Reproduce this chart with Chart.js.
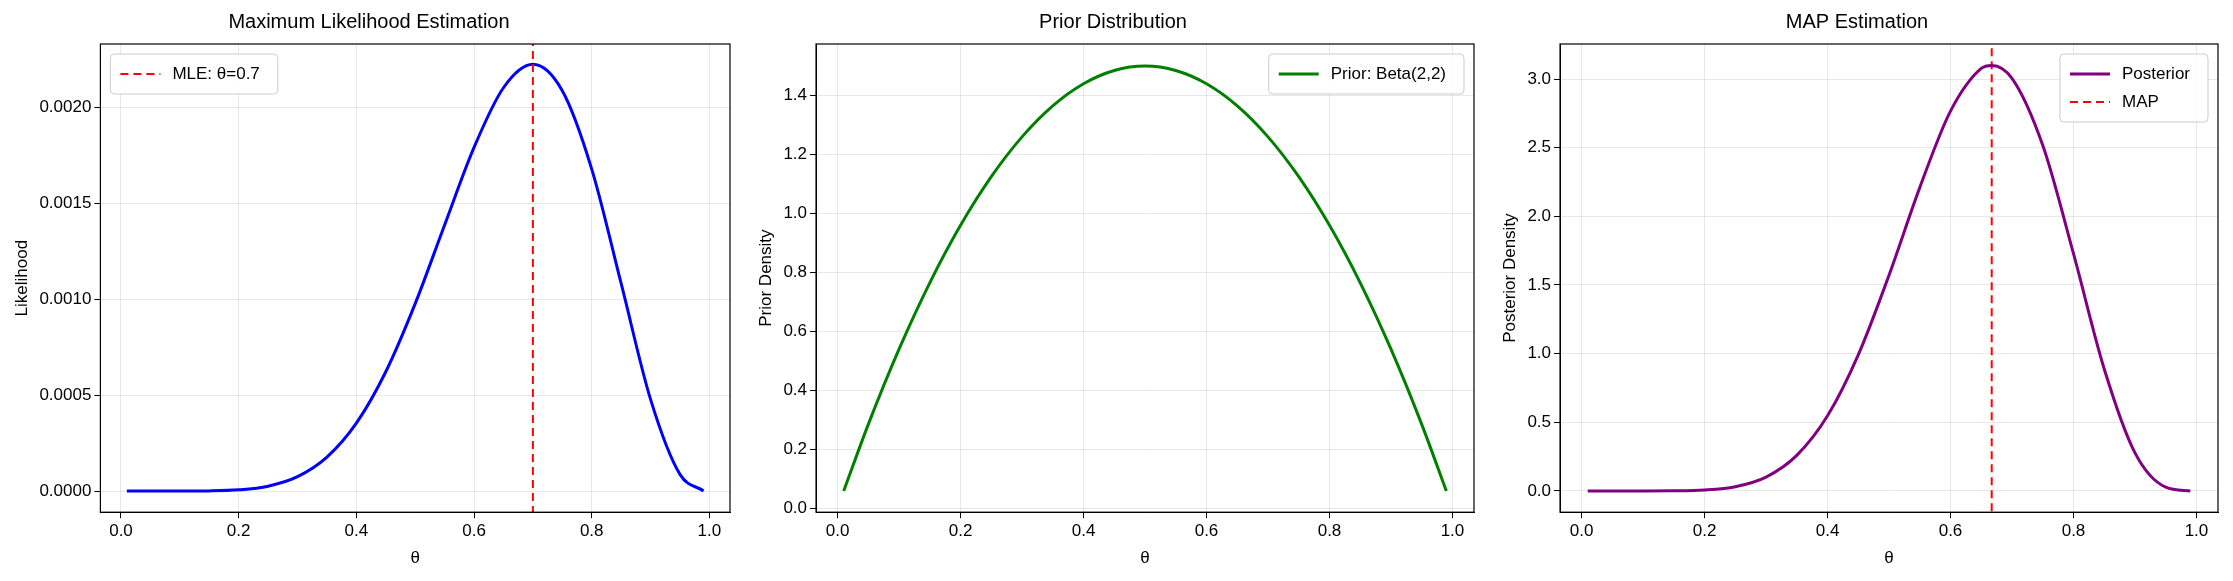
<!DOCTYPE html>
<html>
<head>
<meta charset="utf-8">
<script src="https://cdn.jsdelivr.net/npm/chart.js@4.4.0/dist/chart.umd.min.js"></script>
<style>
  body { margin: 0; background: #fff; }
  .row { display: flex; width: 2233px; height: 581px; }
  .cell { position: relative; width: 744px; height: 581px; }
</style>
</head>
<body>
<div class="row">
  <div class="cell"><canvas id="c1"></canvas></div>
  <div class="cell"><canvas id="c2"></canvas></div>
  <div class="cell"><canvas id="c3"></canvas></div>
</div>
<script>
// values
const theta = [0.01, 0.05, 0.1, 0.15, 0.2, 0.25, 0.3, 0.35, 0.4, 0.45, 0.5, 0.55, 0.6, 0.65, 0.7, 0.75, 0.8, 0.85, 0.9, 0.95, 0.99];
const likelihood = [0, 0, 0.0000001, 0.000001, 0.0000066, 0.0000257, 0.000075, 0.000177, 0.000354, 0.000622, 0.000977, 0.001387, 0.001791, 0.002102, 0.002224, 0.002086, 0.001678, 0.001082, 0.000478, 0.000087, 0.000001];
const prior = [0.059, 0.285, 0.54, 0.765, 0.96, 1.125, 1.26, 1.365, 1.44, 1.485, 1.5, 1.485, 1.44, 1.365, 1.26, 1.125, 0.96, 0.765, 0.54, 0.285, 0.059];
const postTheta = [0.01, 0.05, 0.1, 0.15, 0.2, 0.25, 0.3, 0.35, 0.4, 0.45, 0.5, 0.55, 0.6, 0.65, 0.667, 0.7, 0.75, 0.8, 0.85, 0.9, 0.95, 0.99];
const posterior = [0, 0, 0.00004, 0.0009, 0.0067, 0.031, 0.101, 0.259, 0.547, 0.991, 1.571, 2.209, 2.766, 3.077, 3.099, 3.005, 2.517, 1.728, 0.888, 0.277, 0.027, 0];
const mle = 0.7;
const mapEst = 0.667;

const FONT = "'Liberation Sans', Arial, sans-serif";
Chart.defaults.font.family = FONT;
Chart.defaults.color = "#000";
Chart.defaults.animation = false;

function pts(xs, ys) { return xs.map((x, i) => ({ x: x, y: ys[i] })); }

// matplotlib-like frame + legend drawn inside the plot area
const innerLegend = {
  id: "innerLegend",
  afterDraw(chart, args, opts) {
    const ctx = chart.ctx, a = chart.chartArea;
    const items = chart.data.datasets.filter(d => d.label);
    ctx.save();
    ctx.strokeStyle = "#000";
    ctx.lineWidth = 1.2;
    ctx.strokeRect(a.left, a.top, a.right - a.left, a.bottom - a.top);
    ctx.font = "17px " + FONT;
    let w = 0;
    items.forEach(d => { w = Math.max(w, ctx.measureText(d.label).width); });
    const bw = w + 80, bh = items.length * 28 + 12;
    const x = opts.side === "left" ? a.left + 10 : a.right - 10 - bw;
    const y = a.top + 10;
    ctx.fillStyle = "rgba(255,255,255,0.85)";
    ctx.strokeStyle = "#ccc";
    ctx.lineWidth = 1;
    ctx.beginPath();
    ctx.roundRect(x, y, bw, bh, 4);
    ctx.fill(); ctx.stroke();
    items.forEach((d, i) => {
      const cy = y + 20 + i * 28;
      ctx.strokeStyle = d.borderColor;
      ctx.lineWidth = d.borderWidth;
      ctx.setLineDash(d.borderDash || []);
      ctx.beginPath();
      ctx.moveTo(x + 10, cy); ctx.lineTo(x + 50, cy); ctx.stroke();
      ctx.setLineDash([]);
      ctx.fillStyle = "#000";
      ctx.textBaseline = "middle";
      ctx.fillText(d.label, x + 62, cy);
    });
    ctx.restore();
  }
};

function makeChart(id, title, ylabel, datasets, y, side) {
  new Chart(document.getElementById(id), {
    type: "line",
    data: { datasets: datasets },
    plugins: [innerLegend],
    options: {
      responsive: true,
      maintainAspectRatio: false,
      layout: { padding: { left: 8, right: 14, top: 6, bottom: 8 } },
      elements: { point: { radius: 0 }, line: { cubicInterpolationMode: "monotone" } },
      plugins: {
        legend: { display: false },
        tooltip: { enabled: false },
        title: { display: true, text: title, font: { size: 20, weight: "normal" }, padding: { top: 4, bottom: 10 } },
        innerLegend: { side: side }
      },
      scales: {
        x: {
          type: "linear", min: -0.035, max: 1.035,
          afterBuildTicks: s => { s.ticks = [0, 0.2, 0.4, 0.6, 0.8, 1].map(v => ({ value: v })); },
          ticks: { font: { size: 17 }, callback: v => v.toFixed(1) },
          grid: { color: "rgba(0,0,0,0.09)", tickColor: "#000", tickLength: 6 },
          border: { color: "#000" },
          title: { display: true, text: "θ", font: { size: 17 } }
        },
        y: {
          min: y.min, max: y.max,
          afterBuildTicks: s => { s.ticks = y.ticks.map(v => ({ value: v })); },
          ticks: { font: { size: 17 }, callback: v => v.toFixed(y.dec) },
          grid: { color: "rgba(0,0,0,0.09)", tickColor: "#000", tickLength: 6 },
          border: { color: "#000" },
          title: { display: true, text: ylabel, font: { size: 17 } }
        }
      }
    }
  });
}

makeChart("c1", "Maximum Likelihood Estimation", "Likelihood", [
  { label: "MLE: θ=0.7", data: pts([mle, mle], [-1, 1]), borderColor: "red", borderWidth: 2, borderDash: [8, 5], cubicInterpolationMode: "default" },
  { label: "", data: pts(theta, likelihood), borderColor: "blue", borderWidth: 3 }
], { min: -0.00011, max: 0.00233, dec: 4, ticks: [0, 0.0005, 0.001, 0.0015, 0.002] }, "left");

makeChart("c2", "Prior Distribution", "Prior Density", [
  { label: "Prior: Beta(2,2)", data: pts(theta, prior), borderColor: "green", borderWidth: 3 }
], { min: -0.013, max: 1.575, dec: 1, ticks: [0, 0.2, 0.4, 0.6, 0.8, 1, 1.2, 1.4] }, "right");

makeChart("c3", "MAP Estimation", "Posterior Density", [
  { label: "Posterior", data: pts(postTheta, posterior), borderColor: "purple", borderWidth: 3 },
  { label: "MAP", data: pts([mapEst, mapEst], [-1, 4]), borderColor: "red", borderWidth: 2, borderDash: [8, 5], cubicInterpolationMode: "default" }
], { min: -0.155, max: 3.255, dec: 1, ticks: [0, 0.5, 1, 1.5, 2, 2.5, 3] }, "right");
</script>
</body>
</html>
